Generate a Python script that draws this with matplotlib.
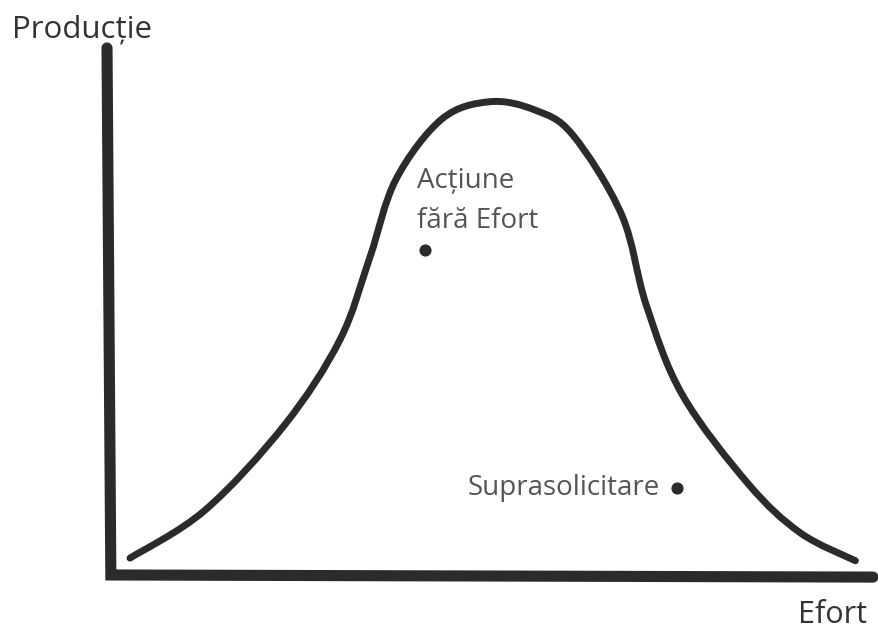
import matplotlib.pyplot as plt
from matplotlib.path import Path
from matplotlib.patches import PathPatch

plt.rcParams['font.family'] = ['Open Sans', 'DejaVu Sans']

# curba efort / productie
efort = [0.30, 1.28, 2.32, 3.04, 3.43, 3.77, 4.37, 5.00, 5.59, 6.08, 6.72,
         7.04, 7.51, 8.37, 9.05, 9.77]
productie = [0.32, 1.23, 2.85, 4.46, 6.02, 7.50, 8.65, 8.98, 8.82, 8.35, 6.83,
             5.12, 3.42, 1.73, 0.80, 0.27]

puncte_x = [4.15, 7.44]
puncte_y = [6.17, 1.65]

c_line = '#2b2b2b'
c_text = '#555555'


def smooth_path(xs, ys):
    # curba Bezier prin punctele citite (Catmull-Rom)
    pts = list(zip(xs, ys))
    verts = [pts[0]]
    codes = [Path.MOVETO]
    n = len(pts)
    for i in range(n - 1):
        p0 = pts[max(i - 1, 0)]
        p1 = pts[i]
        p2 = pts[i + 1]
        p3 = pts[min(i + 2, n - 1)]
        c1 = (p1[0] + (p2[0] - p0[0]) / 6, p1[1] + (p2[1] - p0[1]) / 6)
        c2 = (p2[0] - (p3[0] - p1[0]) / 6, p2[1] - (p3[1] - p1[1]) / 6)
        verts += [c1, c2, p2]
        codes += [Path.CURVE4] * 3
    return Path(verts, codes)


fig = plt.figure(figsize=(8.79, 6.34), dpi=100)
ax = fig.add_axes([0, 0, 1, 1])
ax.set_xlim(-1.397, 10.078)
ax.set_ylim(-1.12, 10.91)
ax.axis('off')

# axe desenate de mana (un singur traseu, colt ascutit)
ax.plot([0.0, 0.05, 10.0], [10.0, 0.0, -0.04], color=c_line, lw=8,
        solid_capstyle='round', solid_joinstyle='miter')

ax.add_patch(PathPatch(smooth_path(efort, productie), fill=False,
                       edgecolor=c_line, lw=5, capstyle='round', joinstyle='round'))
ax.scatter(puncte_x, puncte_y, s=60, color=c_line, zorder=3)

ax.text(-1.24, 10.19, 'Producție', fontsize=22.5, color='#333333', va='baseline')
ax.text(9.02, -0.91, 'Efort', fontsize=22, color='#333333', va='baseline')
ax.text(4.05, 7.34, 'Acțiune', fontsize=20, color=c_text, va='baseline')
ax.text(4.05, 6.58, 'fără Efort', fontsize=20, color=c_text, va='baseline')
ax.text(7.22, 1.65, 'Suprasolicitare', fontsize=20, color=c_text,
        ha='right', va='center')

plt.savefig('out.png', dpi=100)
